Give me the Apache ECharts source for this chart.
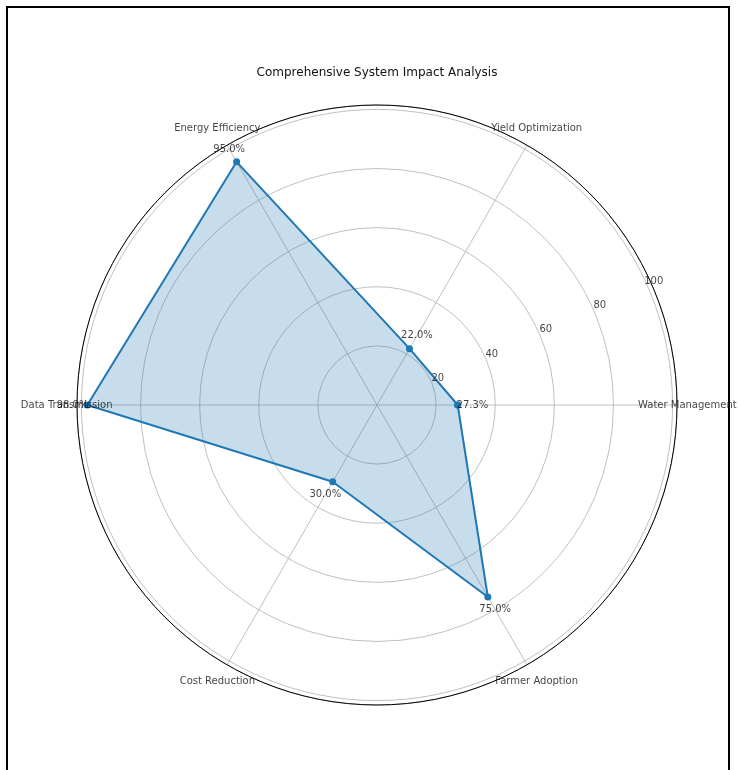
<!DOCTYPE html>
<html><head><meta charset="utf-8">
<script src="https://cdn.jsdelivr.net/npm/echarts@6/dist/echarts.min.js"></script>
<style>html,body{margin:0;padding:0;background:#fff}#c{width:738px;height:770px}</style>
</head><body><div id="c"></div>
<script>
const chartTitle = 'Comprehensive System Impact Analysis';
const categories = ['Water Management', 'Yield Optimization', 'Energy Efficiency', 'Data Transmission', 'Cost Reduction', 'Farmer Adoption'];
const values = [27.3, 22.0, 95.0, 98.0, 30.0, 75.0];
const radialTicks = [20, 40, 60, 80, 100];

const FONT = 'DejaVu Sans';
const R_MAX = 101.5, R_PX = 300, R_TEXT = 120;
const step = 360 / categories.length;
const angles = categories.map((c, i) => i * step);
const lineData = values.map((v, i) => [v, angles[i]]);
lineData.push([values[0], 360]);
const valueLabelData = values.map((v, i) => ({ value: [v + 5, angles[i]], label: { formatter: v.toFixed(1) + '%' } }));
const catLabelData = categories.map((c, i) => ({
  value: [105 + 3.5 * Math.abs(Math.sin(angles[i] * Math.PI / 180)), angles[i]],
  label: { formatter: c }
}));
const tickLabelData = radialTicks.map(t => ({ value: [t + 2.5, 24], label: { formatter: String(t) } }));

const textSeries = (data, size) => ({
  type: 'scatter', coordinateSystem: 'polar', polarIndex: 1, data: data, symbolSize: 1,
  itemStyle: { color: 'rgba(0,0,0,0)' }, silent: true, z: 5, clip: false,
  label: { show: true, position: 'inside', color: '#111', fontFamily: FONT, fontSize: size },
  emphasis: { disabled: true }
});

const hiddenAxis = { axisLine: { show: false }, axisTick: { show: false }, axisLabel: { show: false }, splitLine: { show: false } };

const chart = echarts.init(document.getElementById('c'));
chart.setOption({
  animation: false,
  backgroundColor: '#fff',
  polar: [
    { center: [377, 405], radius: R_PX },
    { center: [377, 405], radius: R_PX * R_TEXT / R_MAX }
  ],
  angleAxis: [
    {
      polarIndex: 0, type: 'value', min: 0, max: 360, interval: 60, startAngle: 0, clockwise: false,
      axisLine: { show: true, lineStyle: { color: '#000', width: 1 } },
      axisTick: { show: false }, axisLabel: { show: false },
      splitLine: { show: true, lineStyle: { color: '#b0b0b0', width: 0.8 } }
    },
    Object.assign({ polarIndex: 1, type: 'value', min: 0, max: 360, startAngle: 0, clockwise: false }, hiddenAxis)
  ],
  radiusAxis: [
    {
      polarIndex: 0, type: 'value', min: 0, max: R_MAX, interval: 20,
      axisLine: { show: false }, axisTick: { show: false }, axisLabel: { show: false },
      splitLine: { show: true, lineStyle: { color: '#b0b0b0', width: 0.8 } }
    },
    Object.assign({ polarIndex: 1, type: 'value', min: 0, max: R_TEXT }, hiddenAxis)
  ],
  graphic: [
    { type: 'rect', shape: { x: 7, y: 7, width: 722, height: 800 }, style: { fill: 'none', stroke: '#000', lineWidth: 2 }, silent: true },
    { type: 'text', x: 377, y: 73, style: { text: chartTitle, fontFamily: FONT, fontSize: 12, fill: '#111', textAlign: 'center', textVerticalAlign: 'middle' }, silent: true }
  ],
  series: [
    {
      type: 'line', coordinateSystem: 'polar', polarIndex: 0, data: lineData, smooth: false,
      symbol: 'circle', symbolSize: 7, z: 3,
      lineStyle: { color: '#1f77b4', width: 2 },
      itemStyle: { color: '#1f77b4' },
      areaStyle: { color: '#1f77b4', opacity: 0.25 },
      emphasis: { disabled: true }
    },
    textSeries(valueLabelData, 10),
    textSeries(catLabelData, 10),
    textSeries(tickLabelData, 10)
  ]
});
</script></body></html>
